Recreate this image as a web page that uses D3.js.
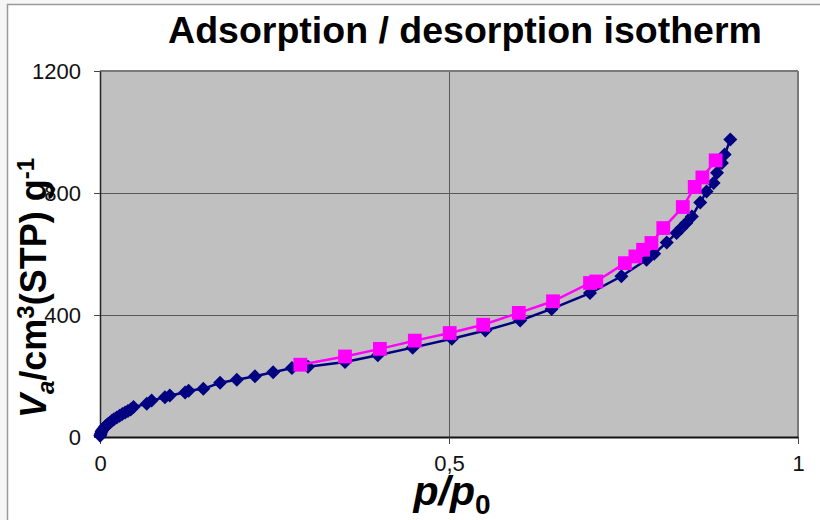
<!DOCTYPE html>
<html>
<head>
<meta charset="utf-8">
<script src="https://cdn.jsdelivr.net/npm/d3@7"></script>
<style>
  html, body { margin: 0; padding: 0; background: #f6f6f6; }
  svg { display: block; }
  text { font-family: "Liberation Sans", Arial, sans-serif; }
</style>
</head>
<body>
<svg id="chart" width="820" height="520"></svg>
<script>
// Adsorption branch: relative pressure p/p0 and adsorbed volume (cm3 STP per g)
const adsP = [0.0003,0.001,0.002,0.003,0.005,0.007,0.009,0.011,0.014,0.017,
              0.020,0.024,0.028,0.032,0.036,0.040,0.044,0.048,0.067,0.074,
              0.093,0.100,0.122,0.127,0.148,0.172,0.196,0.222,0.248,0.275,
              0.298,0.351,0.398,0.448,0.504,0.552,0.602,0.647,0.702,0.747,
              0.783,0.794,0.812,0.826,0.833,0.840,0.848,0.860,0.869,0.879,
              0.884,0.891,0.895,0.903];
const adsV = [4,10,16,21,27,33,38,42,47,53,
              58,64,70,75,80,85,90,98,109,120,
              130,136,146,152,158,178,188,199,212,226,
              230,246,268,293,322,349,382,420,472,527,
              581,601,638,669,685,702,723,769,805,833,
              866,898,926,975];

// Desorption branch
const desP = [0.287,0.351,0.401,0.451,0.501,0.549,0.600,0.649,0.702,0.711,
              0.752,0.767,0.778,0.790,0.807,0.835,0.852,0.863,0.882];
const desV = [237,264,289,316,341,368,407,445,505,510,
              570,592,614,636,685,754,820,851,907];

// Axis ticks
const xTicks = [0, 0.5, 1];
const xTickLabels = ["0", "0,5", "1"];
const yTicks = [0, 400, 800, 1200];
const yTickLabels = ["0", "400", "800", "1200"];

const svg = d3.select("#chart");
const W = 820, H = 520;
const plot = { left: 100, right: 798, top: 71, bottom: 437 };

// Outer white frame
svg.append("rect")
  .attr("x", 7.5).attr("y", 4.5)
  .attr("width", W).attr("height", H)
  .attr("fill", "#ffffff")
  .attr("stroke", "#9a9a9a").attr("stroke-width", 1.5);

const x = d3.scaleLinear().domain([0, 1]).range([plot.left, plot.right]);
const y = d3.scaleLinear().domain([0, 1200]).range([plot.bottom, plot.top]);

// Plot area background
svg.append("rect")
  .attr("x", plot.left).attr("y", plot.top)
  .attr("width", plot.right - plot.left).attr("height", plot.bottom - plot.top)
  .attr("fill", "#c0c0c0");

// Gridlines
const grid = svg.append("g").attr("stroke", "#5a5a5a").attr("stroke-width", 1);
grid.selectAll("line.gy").data(yTicks.filter(v => v > 0 && v < 1200)).join("line")
  .attr("x1", plot.left).attr("x2", plot.right)
  .attr("y1", d => Math.round(y(d)) + 0.5).attr("y2", d => Math.round(y(d)) + 0.5);
grid.selectAll("line.gx").data(xTicks.filter(v => v > 0 && v < 1)).join("line")
  .attr("y1", plot.top).attr("y2", plot.bottom)
  .attr("x1", d => Math.round(x(d)) + 0.5).attr("x2", d => Math.round(x(d)) + 0.5);

// Plot border: top/right grey, left/bottom dark
svg.append("line").attr("x1", plot.left).attr("x2", plot.right)
  .attr("y1", plot.top).attr("y2", plot.top)
  .attr("stroke", "#7a7a7a").attr("stroke-width", 2);
svg.append("line").attr("x1", plot.right).attr("x2", plot.right)
  .attr("y1", plot.top).attr("y2", plot.bottom)
  .attr("stroke", "#7a7a7a").attr("stroke-width", 2);

// Axes
const yAxis = d3.axisLeft(y).tickValues(yTicks)
  .tickFormat((d, i) => yTickLabels[i]).tickSizeInner(6).tickSizeOuter(0).tickPadding(13);
const gy = svg.append("g").attr("transform", `translate(${plot.left},0)`).call(yAxis);
gy.select(".domain").attr("stroke", "#222").attr("stroke-width", 1.5);
gy.selectAll(".tick line").attr("stroke", "#444");
gy.selectAll(".tick text").attr("font-size", 22).attr("fill", "#111")
  .attr("font-family", "'Liberation Sans', Arial, sans-serif");

const xAxis = d3.axisBottom(x).tickValues(xTicks)
  .tickFormat((d, i) => xTickLabels[i]).tickSizeInner(7).tickSizeOuter(0).tickPadding(11);
const gx = svg.append("g").attr("transform", `translate(0,${plot.bottom})`).call(xAxis);
gx.select(".domain").attr("stroke", "#111").attr("stroke-width", 2);
gx.selectAll(".tick line").attr("stroke", "#444");
gx.selectAll(".tick text").attr("font-size", 22).attr("fill", "#111")
  .attr("font-family", "'Liberation Sans', Arial, sans-serif");

// Series
const ads = adsP.map((p, i) => ({ p, v: adsV[i] }));
const des = desP.map((p, i) => ({ p, v: desV[i] }));
const line = d3.line().x(d => x(d.p)).y(d => y(d.v));

svg.append("path").datum(ads).attr("d", line)
  .attr("fill", "none").attr("stroke", "#000080").attr("stroke-width", 2.5);
svg.append("g").selectAll("path").data(ads).join("path")
  .attr("d", d3.symbol().type(d3.symbolSquare).size(98))
  .attr("transform", d => `translate(${x(d.p)},${y(d.v)}) rotate(45)`)
  .attr("fill", "#000080");

svg.append("path").datum(des).attr("d", line)
  .attr("fill", "none").attr("stroke", "#ff00ff").attr("stroke-width", 2.5);
svg.append("g").selectAll("path").data(des).join("path")
  .attr("d", d3.symbol().type(d3.symbolSquare).size(190))
  .attr("transform", d => `translate(${x(d.p)},${y(d.v)})`)
  .attr("fill", "#ff00ff");

// Title
svg.append("text")
  .attr("x", 465).attr("y", 43)
  .attr("text-anchor", "middle")
  .attr("font-size", 37.5).attr("font-weight", "bold").attr("fill", "#000")
  .text("Adsorption / desorption isotherm");

// X axis title: p/p0
const xt = svg.append("text")
  .attr("x", 452).attr("y", 505)
  .attr("text-anchor", "middle")
  .attr("font-size", 41).attr("font-weight", "bold").attr("fill", "#000");
xt.append("tspan").attr("font-style", "italic").text("p/p");
xt.append("tspan").attr("font-size", 28).attr("dy", 9).text("0");

// Y axis title: Va/cm3(STP) g-1
const yt = svg.append("text")
  .attr("transform", "translate(46,288) rotate(-90)")
  .attr("text-anchor", "middle")
  .attr("font-size", 36).attr("font-weight", "bold").attr("fill", "#000");
yt.append("tspan").attr("font-style", "italic").text("V");
yt.append("tspan").attr("font-style", "italic").attr("font-size", 24).attr("dy", 8).text("a");
yt.append("tspan").attr("dy", -8).text("/cm");
yt.append("tspan").attr("font-size", 24).attr("dy", -12).text("3");
yt.append("tspan").attr("dy", 12).text("(STP) g");
yt.append("tspan").attr("font-size", 24).attr("dy", -12).text("-1");
</script>
</body>
</html>
